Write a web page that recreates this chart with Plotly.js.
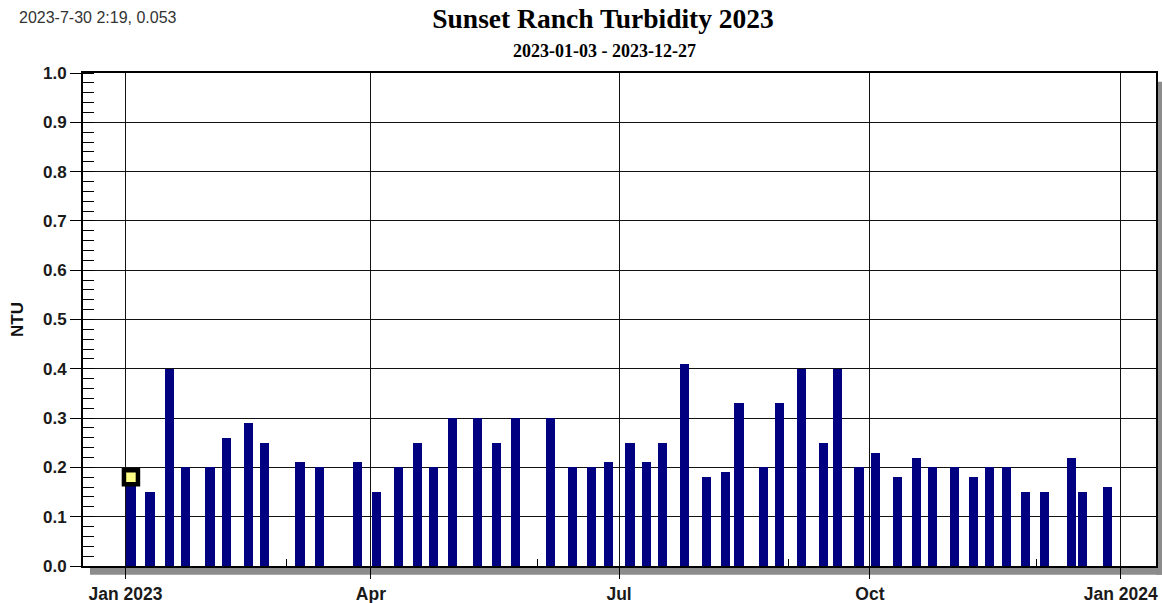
<!DOCTYPE html>
<html>
<head>
<meta charset="utf-8">
<script src="https://cdn.plot.ly/plotly-3.0.1.min.js"></script>
<style>
  html, body { margin: 0; padding: 0; background: #fff; }
  #chart { width: 1162px; height: 603px; }
</style>
</head>
<body>
<div id="chart"></div>
<script>
// ---- data ----
const sampleDates = ['2023-01-03','2023-01-10','2023-01-17','2023-01-23','2023-02-01','2023-02-07','2023-02-15','2023-02-21',
  '2023-03-06','2023-03-13','2023-03-27','2023-04-03','2023-04-11','2023-04-18','2023-04-24','2023-05-01',
  '2023-05-10','2023-05-17','2023-05-24','2023-06-06','2023-06-14','2023-06-21','2023-06-27','2023-07-05',
  '2023-07-11','2023-07-17','2023-07-25','2023-08-02','2023-08-09','2023-08-14','2023-08-23','2023-08-29',
  '2023-09-06','2023-09-14','2023-09-19','2023-09-27','2023-10-03','2023-10-11','2023-10-18','2023-10-24',
  '2023-11-01','2023-11-08','2023-11-14','2023-11-20','2023-11-27','2023-12-04','2023-12-14','2023-12-18',
  '2023-12-27'];
const turbidityNTU = [0.18,0.15,0.40,0.20,0.20,0.26,0.29,0.25,
  0.21,0.20,0.21,0.15,0.20,0.25,0.20,0.30,
  0.30,0.25,0.30,0.30,0.20,0.20,0.21,0.25,
  0.21,0.25,0.41,0.18,0.19,0.33,0.20,0.33,
  0.40,0.25,0.40,0.20,0.23,0.18,0.22,0.20,
  0.20,0.18,0.20,0.20,0.15,0.15,0.22,0.15,
  0.16];
const xTickVals = ['2023-01-01','2023-04-01','2023-07-01','2023-10-01','2024-01-01'];
const xTickText = ['Jan 2023','Apr','Jul','Oct','Jan 2024'];
const xMinorTickVals = ['2023-03-01','2023-06-01','2023-09-01','2023-12-01'];
const xRange = ['2022-12-16 10:00','2024-01-13 22:00'];
const yRange = [0, 1];
const chartTitle = 'Sunset Ranch Turbidity 2023';
const chartSubtitle = '2023-01-03 - 2023-12-27';
const yTitle = 'NTU';
const hoverReadout = '2023-7-30 2:19, 0.053';

// ---- chart ----
const sans = 'Liberation Sans, Arial, sans-serif';
const serif = 'Liberation Serif, Times New Roman, serif';
const DAY = 86400000;

const bars = {
  type: 'bar',
  x: sampleDates,
  y: turbidityNTU,
  width: 3.35 * DAY,
  marker: { color: '#000080', line: { width: 0 } },
  hoverinfo: 'skip'
};
const cursor = {
  type: 'scatter',
  mode: 'markers',
  x: [sampleDates[0]],
  y: [turbidityNTU[0]],
  marker: { symbol: 'square', size: 14, color: '#ffff88', line: { color: '#000', width: 4.5 } },
  hoverinfo: 'skip'
};

const layout = {
  width: 1162,
  height: 603,
  margin: { l: 83, r: 6, t: 73, b: 36.5, pad: 0 },
  paper_bgcolor: '#fff',
  plot_bgcolor: '#fff',
  showlegend: false,
  hovermode: false,
  bargap: 0,
  title: {
    text: chartTitle,
    font: { family: serif, size: 27.5, color: '#000', weight: 'bold' },
    xref: 'container', x: 0.519, xanchor: 'center',
    yref: 'container', y: 0.969, yanchor: 'middle'
  },
  xaxis: {
    type: 'date',
    range: xRange,
    tickmode: 'array',
    tickvals: xTickVals,
    ticktext: xTickText,
    ticks: 'outside', ticklen: 11, tickwidth: 1, tickcolor: '#000',
    tickfont: { family: sans, size: 17.5, color: '#1a1a1a', weight: 'bold' },
    showgrid: true, gridcolor: '#111', gridwidth: 1,
    showline: true, linecolor: '#000', linewidth: 2, mirror: true,
    zeroline: false,
    minor: { tickmode: 'array', tickvals: xMinorTickVals, ticks: 'inside', ticklen: 7, tickcolor: '#000', tickwidth: 1, showgrid: false }
  },
  yaxis: {
    range: yRange,
    dtick: 0.1,
    tickformat: '.1f',
    ticks: 'outside', ticklen: 11, tickwidth: 1, tickcolor: '#000',
    tickfont: { family: sans, size: 17, color: '#1a1a1a', weight: 'bold' },
    showgrid: true, gridcolor: '#111', gridwidth: 1,
    showline: true, linecolor: '#000', linewidth: 2, mirror: true,
    zeroline: false,
    title: { text: yTitle, font: { family: sans, size: 17, color: '#111', weight: 'bold' }, standoff: 15 },
    minor: { dtick: 0.02, ticks: 'inside', ticklen: 11, tickcolor: '#000', tickwidth: 1, showgrid: false }
  },
  shapes: [
    { type: 'rect', xref: 'paper', yref: 'paper', layer: 'below',
      x0: 0.0065, x1: 1.0056, y0: -0.0175, y1: 0, fillcolor: '#8c8c8c', line: { width: 0 } },
    { type: 'rect', xref: 'paper', yref: 'paper', layer: 'below',
      x0: 1.0, x1: 1.0056, y0: -0.0175, y1: 0.982, fillcolor: '#8c8c8c', line: { width: 0 } }
  ],
  annotations: [
    { text: chartSubtitle, showarrow: false,
      xref: 'paper', x: (604 - 83) / 1073, xanchor: 'center',
      yref: 'paper', y: (566.5 - 51) / 493.5, yanchor: 'middle',
      font: { family: serif, size: 18, color: '#000', weight: 'bold' } },
    { text: hoverReadout, showarrow: false,
      xref: 'paper', x: (17 - 83) / 1073, xanchor: 'left',
      yref: 'paper', y: (566.5 - 17) / 493.5, yanchor: 'middle',
      font: { family: sans, size: 16, color: '#333' } }
  ]
};

Plotly.newPlot('chart', [bars, cursor], layout, { staticPlot: true, displayModeBar: false });
</script>
</body>
</html>
